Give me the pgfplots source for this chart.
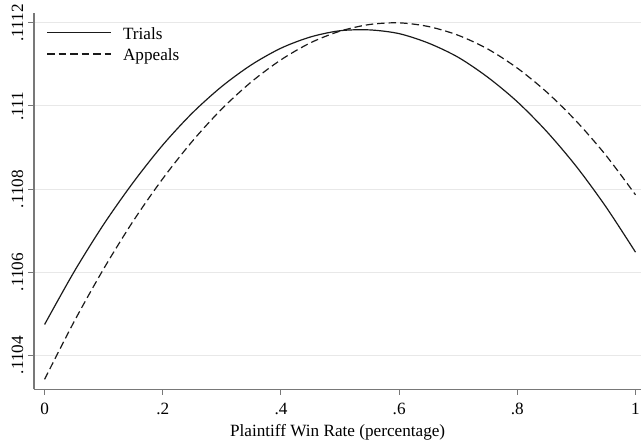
\documentclass[border=0pt]{standalone}
\usepackage{pgfplots}
\pgfplotsset{compat=1.18}
\usepackage{fontspec}
\setmainfont{Liberation Serif}

\definecolor{axgray}{RGB}{120,120,120}
\definecolor{gridgray}{RGB}{232,232,232}
\definecolor{ink}{RGB}{26,26,26}

% predicted values
\pgfplotstableread{
x     trials    appeals
0     0.110474  0.110342
0.05  0.110601  0.110481
0.1   0.110715  0.110608
0.15  0.110816  0.110723
0.2   0.110906  0.110825
0.25  0.110983  0.110915
0.3   0.111047  0.110993
0.35  0.111099  0.111058
0.4   0.111139  0.111111
0.45  0.111166  0.111152
0.5   0.111181  0.111180
0.55  0.111183  0.111196
0.6   0.111174  0.111200
0.65  0.111151  0.111191
0.7   0.111117  0.111170
0.75  0.111069  0.111137
0.8   0.111010  0.111091
0.85  0.110938  0.111033
0.9   0.110854  0.110963
0.95  0.110757  0.110881
1     0.110648  0.110786
}\preds

\begin{document}
\fontsize{17.2bp}{20bp}\selectfont
\begin{tikzpicture}
\begin{axis}[
    scale only axis,
    width=608bp, height=376.4bp,
    xmin=-0.018, xmax=1.0098,
    ymin=0.110318, ymax=0.111223,
    axis lines*=left,
    axis line style={-, draw=axgray, line width=1.4bp},
    tick align=outside,
    major tick length=5.5bp,
    tick style={draw=axgray, line width=1bp},
    xtick={0,0.2,0.4,0.6,0.8,1},
    xticklabels={0,.2,.4,.6,.8,1},
    ytick={0.1104,0.1106,0.1108,0.111,0.1112},
    yticklabels={.1104,.1106,.1108,.111,.1112},
    xticklabel style={anchor=north, inner sep=0pt, yshift=-8bp},
    yticklabel style={rotate=90, anchor=south, inner xsep=0pt, inner ysep=5bp},
    ymajorgrids,
    grid style={draw=gridgray, line width=1bp},
    xlabel={Plaintiff Win Rate (percentage)},
    xlabel style={at={(axis description cs:0.5,0)}, anchor=base, yshift=-47bp, inner sep=0pt},
    legend cell align=left,
    legend image code/.code={\draw[#1] (0bp,6.8bp) -- (64bp,6.8bp);},
    legend style={draw=none, fill=none, at={(axis description cs:0,1)},
        anchor=north west, xshift=12.7bp, yshift=-14bp,
        inner sep=0pt, outer sep=0pt, row sep=5.5bp, column sep=11.3bp,
        nodes={inner sep=0pt, anchor=base west, text height=12bp, text depth=4bp}},
]
\addplot[ink, line width=1.2bp, smooth] table[x=x, y=trials] {\preds};
\addlegendentry{Trials}
\addplot[ink, line width=1.2bp, smooth, dash pattern=on 7.5bp off 4bp] table[x=x, y=appeals] {\preds};
\addlegendentry{Appeals}
\end{axis}
\path ([shift={(-34bp,-53.3bp)}]current axis.south west) rectangle ([shift={(0bp,13.3bp)}]current axis.north east);
\end{tikzpicture}
\end{document}
